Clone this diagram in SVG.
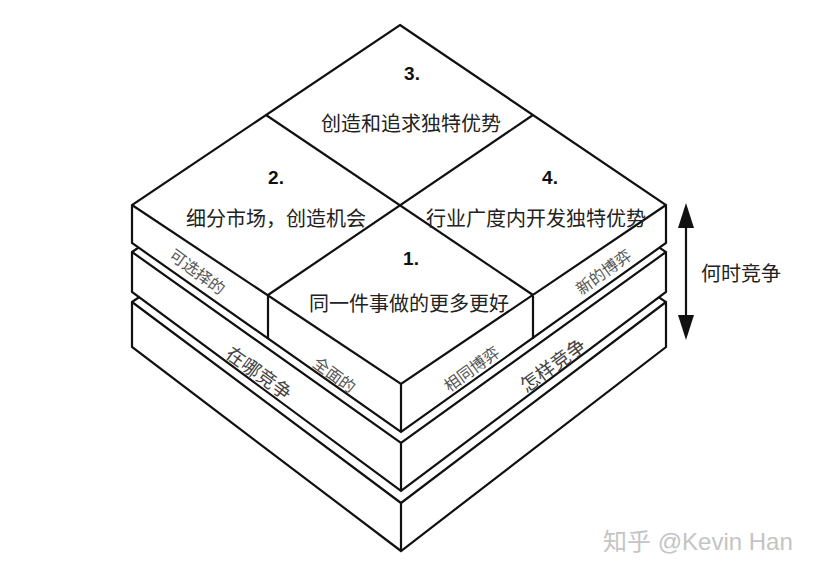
<svg xmlns="http://www.w3.org/2000/svg" width="819" height="572" viewBox="0 0 819 572">
<style>
.sl{fill:#fff;stroke:#111;stroke-width:2.2;stroke-linejoin:miter}
.ln{fill:none;stroke:#111;stroke-width:2.2}
.num{font-family:"Liberation Sans",Arial,sans-serif;font-weight:bold;font-size:19px;fill:#111;text-anchor:middle}
.cap{font-family:"Noto Sans CJK SC","Noto Sans",sans-serif;font-size:20px;fill:#222;text-anchor:middle}
.side{font-family:"Noto Sans CJK SC","Noto Sans",sans-serif;font-size:16px;fill:#555;text-anchor:middle;dominant-baseline:central}
.side2{font-family:"Noto Sans CJK SC","Noto Sans",sans-serif;font-size:19px;fill:#444;text-anchor:middle;dominant-baseline:central}
.wm{font-family:"Liberation Sans","Noto Sans CJK SC",sans-serif;font-size:24px;fill:#c4c4c4}
</style>
<rect width="819" height="572" fill="#fff"/>
<g id="slab3">
<polygon class="sl" points="132,302 172,275 626,275 666,302 666,347 401,551 132,347"/>
<polyline class="ln" points="132,302 401,503 666,302"/>
<line class="ln" x1="401" y1="503" x2="401" y2="551"/>
</g>
<g id="slab2">
<polygon class="sl" points="132,252 172,225 626,225 666,252 666,292 401,491 132,292"/>
<polyline class="ln" points="132,252 401,443 666,252"/>
<line class="ln" x1="401" y1="443" x2="401" y2="491"/>
<text class="side2" transform="rotate(36 260 372)" x="260" y="372">在哪竞争</text>
<text class="side2" transform="rotate(-36 552 364)" x="552" y="364">怎样竞争</text>
</g>
<g id="slab1">
<polygon class="sl" points="400,25 666,205 666,243 401,432 132,243 132,205"/>
<polyline class="ln" points="132,205 401,384 666,205"/>
<line class="ln" x1="401" y1="384" x2="401" y2="432"/>
<line class="ln" x1="268" y1="296" x2="268" y2="339"/>
<line class="ln" x1="533" y1="296" x2="533" y2="339"/>
<line class="ln" x1="266" y1="115" x2="533" y2="295"/>
<line class="ln" x1="533" y1="115" x2="268" y2="295"/>
</g>
<g id="q3">
<text class="num" x="412" y="80">3.</text>
<text class="cap" x="411" y="131">创造和追求独特优势</text>
</g>
<g id="q2">
<text class="num" x="276" y="184">2.</text>
<text class="cap" x="276" y="226">细分市场，创造机会</text>
</g>
<g id="q4">
<text class="num" x="550" y="184">4.</text>
<text class="cap" x="536" y="226">行业广度内开发独特优势</text>
</g>
<g id="q1">
<text class="num" x="411" y="265">1.</text>
<text class="cap" x="409" y="311">同一件事做的更多更好</text>
</g>
<g id="sidelabels">
<text class="side" transform="rotate(36 198 271)" x="198" y="271">可选择的</text>
<text class="side" transform="rotate(36 335 374)" x="335" y="374">全面的</text>
<text class="side" transform="rotate(-36 471 368)" x="471" y="368">相同博弈</text>
<text class="side" transform="rotate(-36 603 271)" x="603" y="271">新的博弈</text>
</g>
<g id="connectors">
<line class="ln" x1="686" y1="222" x2="686" y2="322"/>
<polygon points="686,203 678,228 694,228" fill="#111"/>
<polygon points="686,340 678,315 694,315" fill="#111"/>
</g>
<g id="when">
<text class="cap" x="741" y="281">何时竞争</text>
</g>
<g id="watermark">
<text class="wm" x="603" y="550">知乎 @Kevin Han</text>
</g>
</svg>
